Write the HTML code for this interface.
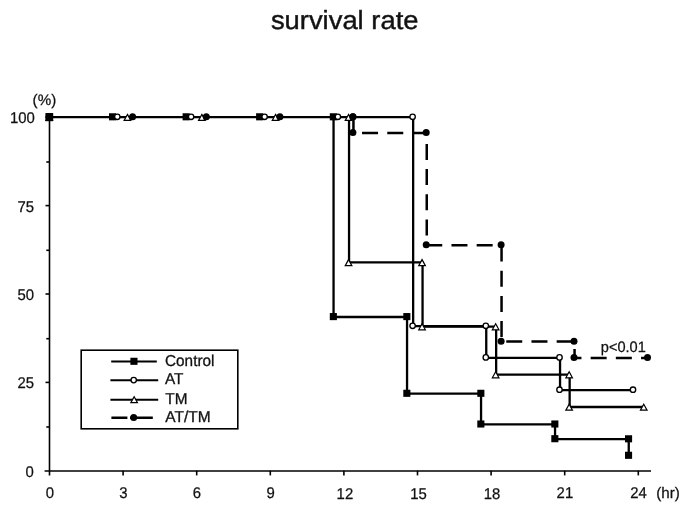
<!DOCTYPE html>
<html lang="en"><head><meta charset="utf-8"><title>survival rate</title>
<style>html,body{margin:0;padding:0;background:#fff}body{width:685px;height:513px;overflow:hidden}svg{display:block}text{font-family:"Liberation Sans", sans-serif;fill:#111;text-rendering:geometricPrecision}</style>
</head><body>
<svg width="685" height="513" viewBox="0 0 685 513">
<rect width="685" height="513" fill="#fff"/>
<text x="270.9" y="28.9" font-size="26.1" textLength="147.6" lengthAdjust="spacingAndGlyphs" fill="#1a1a1a" stroke="#1a1a1a" stroke-width="0.45">survival rate</text>
<g stroke="#000" stroke-width="1.6" fill="none">
<path d="M49.5 117.3 V475.4"/>
<path d="M44.6 470.9 H651" stroke-width="1.5"/>
<path d="M46.3 427.0 h3.2"/>
<path d="M45.5 382.4 h4.0"/>
<path d="M46.3 338.7 h3.2"/>
<path d="M45.5 294.0 h4.0"/>
<path d="M46.3 250.3 h3.2"/>
<path d="M45.5 205.6 h4.0"/>
<path d="M46.3 162.0 h3.2"/>
<path d="M45.5 117.3 h4.0"/>
<path d="M123.1 470.7 v4.7"/>
<path d="M196.7 470.7 v4.7"/>
<path d="M270.3 470.7 v4.7"/>
<path d="M343.9 470.7 v4.7"/>
<path d="M417.5 470.7 v4.7"/>
<path d="M491.1 470.7 v4.7"/>
<path d="M564.7 470.7 v4.7"/>
<path d="M638.3 470.7 v4.7"/>
</g>
<g font-size="14.9" stroke="#111" stroke-width="0.25">
<text transform="translate(33.7 476.5) scale(1 1.045)" text-anchor="end">0</text>
<text transform="translate(34.1 388.2) scale(1 1.045)" text-anchor="end">25</text>
<text transform="translate(34.1 299.6) scale(1 1.045)" text-anchor="end">50</text>
<text transform="translate(34.1 211.5) scale(1 1.045)" text-anchor="end">75</text>
<text transform="translate(34.8 123.0) scale(1 1.045)" text-anchor="end">100</text>
<text transform="translate(49.8 498.2) scale(1 1.045)" text-anchor="middle">0</text>
<text transform="translate(123.4 498.2) scale(1 1.045)" text-anchor="middle">3</text>
<text transform="translate(197.0 498.2) scale(1 1.045)" text-anchor="middle">6</text>
<text transform="translate(270.6 498.2) scale(1 1.045)" text-anchor="middle">9</text>
<text transform="translate(344.9 498.6) scale(1 1.045)" text-anchor="middle">12</text>
<text transform="translate(418.5 498.6) scale(1 1.045)" text-anchor="middle">15</text>
<text transform="translate(492.1 498.6) scale(1 1.045)" text-anchor="middle">18</text>
<text transform="translate(564.9 498.2) scale(1 1.045)" text-anchor="middle">21</text>
<text transform="translate(638.5 498.2) scale(1 1.045)" text-anchor="middle">24</text>
<text transform="translate(32.6 104.6) scale(1 1.020)" text-anchor="start" textLength="23.6" lengthAdjust="spacingAndGlyphs">(%)</text>
<text transform="translate(656.2 498.3) scale(1 1.020)" text-anchor="start" textLength="23.6" lengthAdjust="spacingAndGlyphs">(hr)</text>
<text transform="translate(623.3 352.4) scale(1 1.030)" text-anchor="middle" font-size="14.6">p&lt;0.01</text>
</g>
<g fill="none" stroke="#000" stroke-width="2.3" stroke-linejoin="miter">
<path d="M353.45 117.20 L353.45 133.00 L426.75 133.00 L426.75 245.20 L501.55 245.20 L501.55 341.60 L574.55 341.60 L574.55 358.00 L647.95 358.00" stroke-width="2.5" stroke-dasharray="16 9.2" stroke-dashoffset="0.8"/>
<path d="M349.05 117.20 L349.05 262.40 L422.55 262.40 L422.55 326.60 L496.15 326.60 L496.15 374.60 L569.65 374.60 L569.65 407.00 L644.25 407.00"/>
<path d="M338.45 117.20 L413.15 117.20 L413.15 326.20 L486.25 326.20 L486.25 357.80 L560.05 357.80 L560.05 390.10 L633.45 390.10"/>
<path d="M49.75 117.20 L112.75 117.20 L186.35 117.20 L259.85 117.20 L333.55 117.20 L333.55 317.00 L407.05 317.00 L407.05 393.70 L481.05 393.70 L481.05 424.40 L555.05 424.40 L555.05 439.10 L628.75 439.20 L628.75 455.70"/>
</g>
<circle cx="49.2" cy="116.8" r="3.5" fill="#000"/>
<path d="M49.25 114.40 L52.55 120.40 L45.95 120.40 Z" fill="#fff" stroke="#000" stroke-width="1.2" stroke-linejoin="miter"/>
<circle cx="49.2" cy="116.8" r="2.7" fill="#fff" stroke="#000" stroke-width="1.35"/>
<rect x="45.4" y="113.1" width="7.7" height="8.1" fill="#000"/>
<rect x="46.00" y="113.25" width="7.1" height="7.1" fill="#000"/>
<rect x="109.00" y="113.25" width="7.1" height="7.1" fill="#000"/>
<rect x="182.60" y="113.25" width="7.1" height="7.1" fill="#000"/>
<rect x="256.10" y="113.25" width="7.1" height="7.1" fill="#000"/>
<rect x="329.80" y="113.25" width="7.1" height="7.1" fill="#000"/>
<rect x="329.80" y="313.05" width="7.1" height="7.1" fill="#000"/>
<rect x="403.30" y="313.05" width="7.1" height="7.1" fill="#000"/>
<rect x="403.30" y="389.75" width="7.1" height="7.1" fill="#000"/>
<rect x="477.30" y="389.75" width="7.1" height="7.1" fill="#000"/>
<rect x="477.30" y="420.45" width="7.1" height="7.1" fill="#000"/>
<rect x="551.30" y="420.45" width="7.1" height="7.1" fill="#000"/>
<rect x="551.30" y="435.15" width="7.1" height="7.1" fill="#000"/>
<rect x="625.00" y="435.25" width="7.1" height="7.1" fill="#000"/>
<rect x="625.00" y="451.75" width="7.1" height="7.1" fill="#000"/>
<circle cx="117.3" cy="116.8" r="2.7" fill="#fff" stroke="#000" stroke-width="1.35"/>
<circle cx="191.1" cy="116.8" r="2.7" fill="#fff" stroke="#000" stroke-width="1.35"/>
<circle cx="264.6" cy="116.8" r="2.7" fill="#fff" stroke="#000" stroke-width="1.35"/>
<circle cx="337.9" cy="116.8" r="2.7" fill="#fff" stroke="#000" stroke-width="1.35"/>
<circle cx="412.6" cy="116.8" r="2.7" fill="#fff" stroke="#000" stroke-width="1.35"/>
<circle cx="412.6" cy="325.8" r="2.7" fill="#fff" stroke="#000" stroke-width="1.35"/>
<circle cx="485.8" cy="325.8" r="2.7" fill="#fff" stroke="#000" stroke-width="1.35"/>
<circle cx="485.8" cy="357.4" r="2.7" fill="#fff" stroke="#000" stroke-width="1.35"/>
<circle cx="559.5" cy="357.4" r="2.7" fill="#fff" stroke="#000" stroke-width="1.35"/>
<circle cx="559.5" cy="389.7" r="2.7" fill="#fff" stroke="#000" stroke-width="1.35"/>
<circle cx="633.0" cy="389.7" r="2.7" fill="#fff" stroke="#000" stroke-width="1.35"/>
<path d="M127.45 114.40 L130.75 120.40 L124.15 120.40 Z" fill="#fff" stroke="#000" stroke-width="1.2" stroke-linejoin="miter"/>
<path d="M201.85 114.40 L205.15 120.40 L198.55 120.40 Z" fill="#fff" stroke="#000" stroke-width="1.2" stroke-linejoin="miter"/>
<path d="M275.55 114.40 L278.85 120.40 L272.25 120.40 Z" fill="#fff" stroke="#000" stroke-width="1.2" stroke-linejoin="miter"/>
<path d="M348.55 114.40 L351.85 120.40 L345.25 120.40 Z" fill="#fff" stroke="#000" stroke-width="1.2" stroke-linejoin="miter"/>
<path d="M348.55 259.60 L351.85 265.60 L345.25 265.60 Z" fill="#fff" stroke="#000" stroke-width="1.2" stroke-linejoin="miter"/>
<path d="M422.05 259.60 L425.35 265.60 L418.75 265.60 Z" fill="#fff" stroke="#000" stroke-width="1.2" stroke-linejoin="miter"/>
<path d="M422.05 323.80 L425.35 329.80 L418.75 329.80 Z" fill="#fff" stroke="#000" stroke-width="1.2" stroke-linejoin="miter"/>
<path d="M495.65 323.80 L498.95 329.80 L492.35 329.80 Z" fill="#fff" stroke="#000" stroke-width="1.2" stroke-linejoin="miter"/>
<path d="M495.65 371.80 L498.95 377.80 L492.35 377.80 Z" fill="#fff" stroke="#000" stroke-width="1.2" stroke-linejoin="miter"/>
<path d="M569.15 371.80 L572.45 377.80 L565.85 377.80 Z" fill="#fff" stroke="#000" stroke-width="1.2" stroke-linejoin="miter"/>
<path d="M569.15 404.20 L572.45 410.20 L565.85 410.20 Z" fill="#fff" stroke="#000" stroke-width="1.2" stroke-linejoin="miter"/>
<path d="M643.75 404.20 L647.05 410.20 L640.45 410.20 Z" fill="#fff" stroke="#000" stroke-width="1.2" stroke-linejoin="miter"/>
<circle cx="132.6" cy="116.8" r="3.5" fill="#000"/>
<circle cx="206.3" cy="116.8" r="3.5" fill="#000"/>
<circle cx="279.9" cy="116.8" r="3.5" fill="#000"/>
<circle cx="352.9" cy="116.8" r="3.5" fill="#000"/>
<circle cx="352.9" cy="116.8" r="3.5" fill="#000"/>
<circle cx="352.9" cy="132.6" r="3.5" fill="#000"/>
<circle cx="426.2" cy="132.6" r="3.5" fill="#000"/>
<circle cx="426.2" cy="244.8" r="3.5" fill="#000"/>
<circle cx="501.1" cy="244.8" r="3.5" fill="#000"/>
<circle cx="501.1" cy="341.2" r="3.5" fill="#000"/>
<circle cx="574.0" cy="341.2" r="3.5" fill="#000"/>
<circle cx="574.0" cy="357.6" r="3.5" fill="#000"/>
<circle cx="647.5" cy="357.6" r="3.5" fill="#000"/>
<rect x="81.2" y="350.2" width="156.6" height="78.6" fill="#fff" stroke="#000" stroke-width="1.6"/>
<g stroke="#000" stroke-width="2" fill="none">
<path d="M111.2 361.5 H156.8"/>
<path d="M110.4 380.3 H158.2"/>
<path d="M110.4 399.7 H158.2"/>
<path d="M111.4 417.7 H127.4 M130 417.7 H152.8" stroke-width="2.5"/>
</g>
<rect x="130.40" y="357.75" width="7.1" height="7.1" fill="#000"/>
<circle cx="133.7" cy="380.1" r="2.7" fill="#fff" stroke="#000" stroke-width="1.35"/>
<path d="M134.15 396.70 L137.45 402.70 L130.85 402.70 Z" fill="#fff" stroke="#000" stroke-width="1.2" stroke-linejoin="miter"/>
<circle cx="133.7" cy="417.5" r="3.5" fill="#000"/>
<g font-size="15.35" stroke="#111" stroke-width="0.3">
<text transform="translate(165.0 366.3) scale(1 1.030)" text-anchor="start">Control</text>
<text transform="translate(165.0 384.4) scale(1 1.030)" text-anchor="start">AT</text>
<text transform="translate(165.3 403.9) scale(1 1.030)" text-anchor="start">TM</text>
<text transform="translate(165.3 422.3) scale(1 1.030)" text-anchor="start" textLength="45.3" lengthAdjust="spacingAndGlyphs">AT/TM</text>
</g>
</svg></body></html>
